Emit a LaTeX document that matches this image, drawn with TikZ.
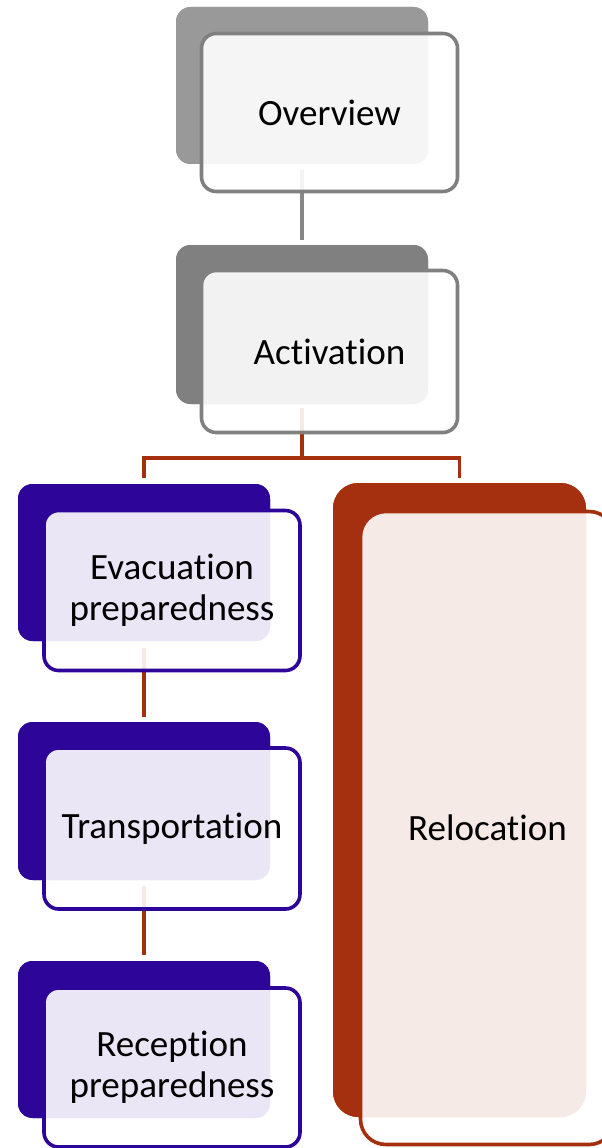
\documentclass[tikz,border=0pt]{standalone}
\usepackage{fontspec}
\setmainfont[RawFeature={-liga,-clig,-dlig,-calt}]{Carlito}
\definecolor{greyA}{HTML}{999999}
\definecolor{greyB}{HTML}{808080}
\definecolor{greyLine}{HTML}{878787}
\definecolor{indigo}{HTML}{2E0599}
\definecolor{rust}{HTML}{A5300F}
\begin{document}
\begin{tikzpicture}[x=0.75pt,y=-0.75pt,
  sz/.style 2 args={minimum width=#1*0.75pt, minimum height=#2*0.75pt},
  backbox/.style={draw=none, fill=#1, inner sep=0pt, rounded corners=11pt},
  frontbox/.style={draw=#1, line width=2.7pt, fill=white, fill opacity=0.9,
    text opacity=1, inner sep=0pt, rounded corners=11pt, align=center,
    font=\fontsize{27.8}{30.75}\selectfont},
  link/.style={draw=#1, line width=2.6pt}]
\useasboundingbox (0,0) rectangle (602,1148);
\clip (0,0) rectangle (602,1148);

% anchor points of the back shapes (used by the connectors)
\path (302,85.5)  node[backbox=greyA, sz={252}{157}] (ovB) {};
\path (302,324.5) node[backbox=greyB, sz={252}{159}] (acB) {};
\path (144,562.5) node[backbox=indigo, sz={252}{157}] (evB) {};
\path (144,801)   node[backbox=indigo, sz={252}{158}] (trB) {};
\path (144,1039.5) node[backbox=indigo, sz={252}{157}] (reB) {};
\path (459.5,800) node[backbox=rust, sz={253}{634}, rounded corners=19pt] (relB) {};

% connectors, drawn below the front shapes
\coordinate (split) at (302,458);
\draw[link=greyLine, shorten <=6*0.75pt, shorten >=5*0.75pt] (ovB.south) -- (acB.north);
\draw[link=rust, shorten <=4*0.75pt] (acB.south) -- (split);
\draw[link=rust, shorten >=6*0.75pt] (split) -| (evB.north);
\draw[link=rust, shorten >=5*0.75pt] (split) -| (relB.north);
\draw[link=rust, shorten <=7*0.75pt, shorten >=5*0.75pt] (evB.south) -- (trB.north);
\draw[link=rust, shorten <=6*0.75pt, shorten >=6*0.75pt] (trB.south) -- (reB.north);

% back shapes redrawn above connectors
\path (302,85.5)  node[backbox=greyA, sz={252}{157}] {};
\path (302,324.5) node[backbox=greyB, sz={252}{159}] {};
\path (144,562.5) node[backbox=indigo, sz={252}{157}] {};
\path (144,801)   node[backbox=indigo, sz={252}{158}] {};
\path (144,1039.5) node[backbox=indigo, sz={252}{157}] {};
\path (459.5,800) node[backbox=rust, sz={253}{634}, rounded corners=19pt] {};

% front shapes with the labels
\path (329.5,112.5) node[frontbox=greyB, sz={256}{158}] (ov) {Overview};
\path (329.5,351.5) node[frontbox=greyB, sz={256}{162}] (ac) {Activation};
\path (172,590.5)  node[frontbox=indigo, sz={256}{160}] (ev) {Evacuation\\preparedness};
\path (172,828.5)  node[frontbox=indigo, sz={256}{161}] (tr) {Transportation};
\path (172,1067.5) node[frontbox=indigo, sz={256}{159}] (re) {Reception\\preparedness};
\path (487.5,828)  node[frontbox=rust, sz={254}{633}, rounded corners=19pt] (rel) {Relocation};
\end{tikzpicture}
\end{document}
